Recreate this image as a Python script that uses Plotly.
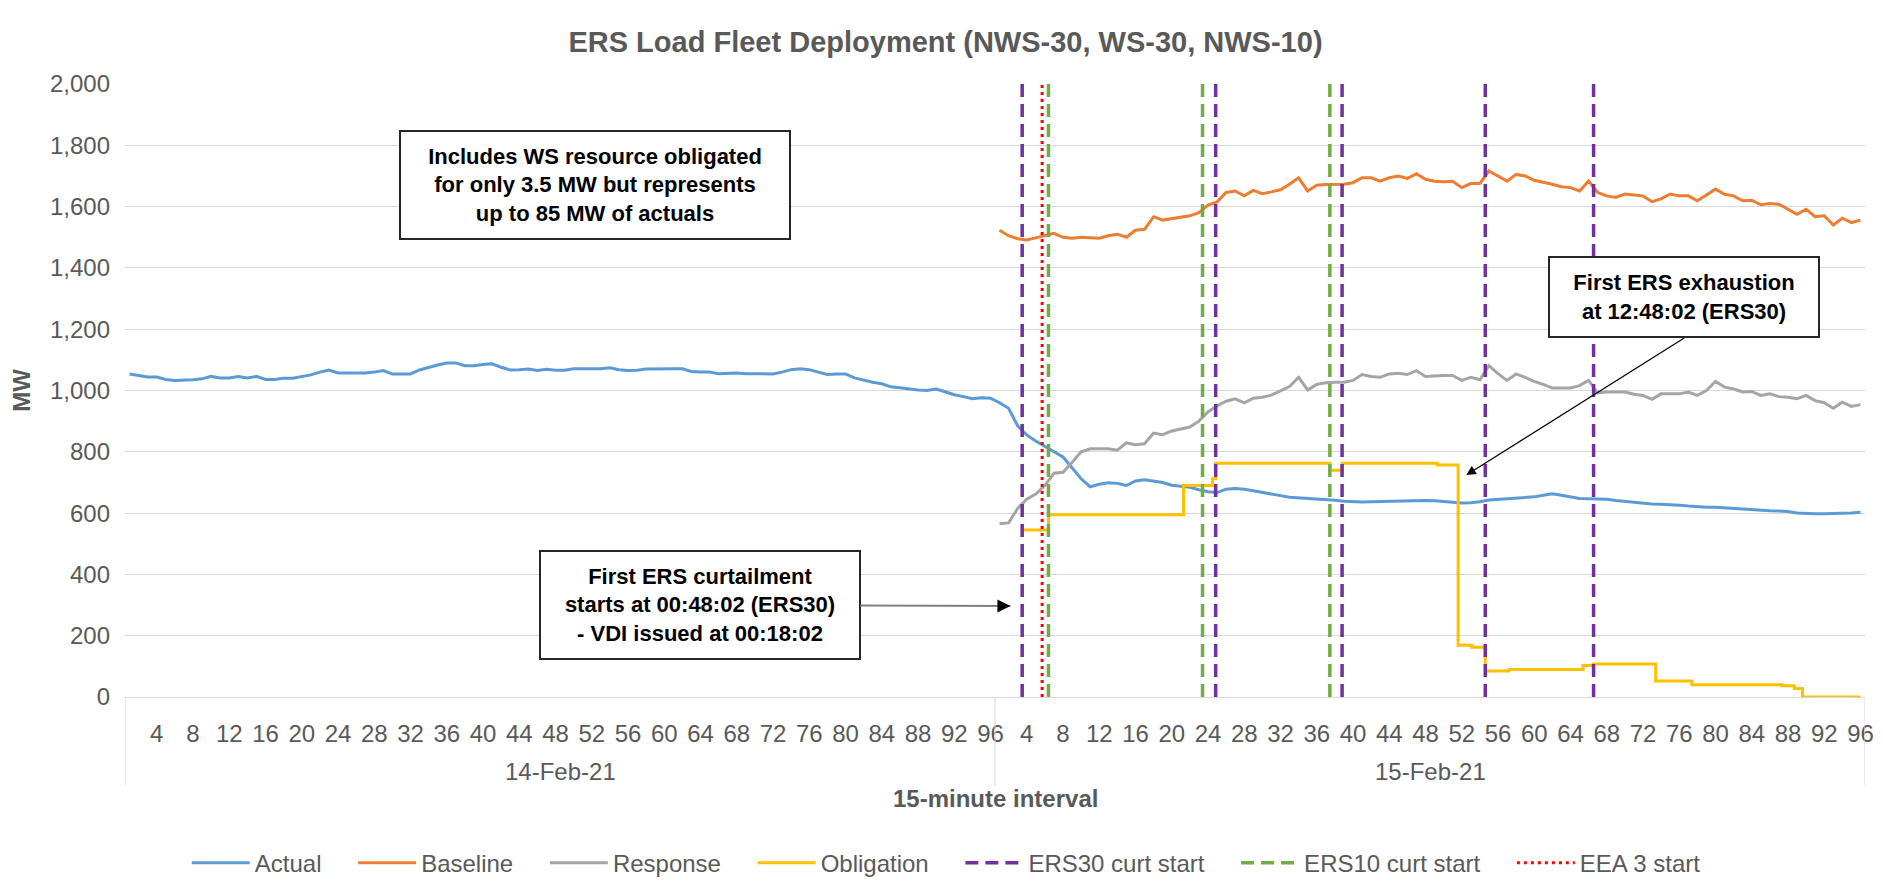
import plotly.graph_objects as go

# ---- data ----
days = ['14-Feb-21', '15-Feb-21']
intervals = list(range(1, 97))

actual_day1 = [1054, 1050, 1044, 1044, 1036, 1033, 1033, 1035, 1038, 1046,
               1041, 1041, 1046, 1041, 1046, 1036, 1036, 1040, 1040, 1046,
               1051, 1060, 1067, 1057, 1057, 1057, 1057, 1060, 1065, 1054,
               1054, 1054, 1067, 1076, 1083, 1090, 1090, 1081, 1081, 1085,
               1087, 1076, 1067, 1068, 1070, 1065, 1069, 1066, 1066, 1071,
               1071, 1071, 1071, 1074, 1068, 1065, 1066, 1070, 1071, 1071,
               1071, 1071, 1062, 1060, 1060, 1055, 1057, 1057, 1055, 1054,
               1054, 1054, 1060, 1068, 1071, 1068, 1060, 1052, 1054, 1054,
               1041, 1033, 1027, 1022, 1012, 1009, 1005, 1002, 1000, 1005,
               996, 986, 980, 973, 976, 975]
actual_day2 = [960, 942, 885, 855, 835, 818, 800, 783, 748, 712,
               686, 694, 699, 697, 690, 705, 709, 705, 700, 691,
               687, 684, 676, 670, 667, 678, 680, 678, 673, 667,
               662, 657, 652, 650, 649, 648, 646, 642, 639, 637,
               636, 637, 638, 638, 639, 640, 640, 641, 640, 638,
               636, 633, 634, 637, 643, 645, 646, 647, 650, 653,
               658, 663, 658, 654, 648, 647, 647, 645, 641, 638,
               636, 633, 630, 629, 628, 626, 623, 620, 619, 619,
               617, 614, 612, 611, 609, 608, 607, 605, 600, 598,
               598, 598, 598, 599, 600, 603]
baseline_day2 = [1523, 1505, 1495, 1491, 1498, 1505, 1513, 1500, 1497, 1500,
                 1498, 1497, 1505, 1510, 1500, 1523, 1526, 1567, 1556, 1560,
                 1564, 1570, 1580, 1605, 1615, 1646, 1651, 1635, 1653, 1642,
                 1648, 1655, 1673, 1694, 1651, 1670, 1672, 1673, 1673, 1678,
                 1694, 1694, 1683, 1694, 1700, 1692, 1707, 1689, 1683, 1681,
                 1683, 1662, 1675, 1675, 1716, 1700, 1683, 1705, 1700, 1686,
                 1680, 1673, 1665, 1662, 1651, 1683, 1646, 1635, 1630, 1641,
                 1638, 1635, 1616, 1625, 1641, 1635, 1635, 1619, 1638, 1657,
                 1640, 1635, 1619, 1621, 1606, 1610, 1608, 1591, 1575, 1591,
                 1567, 1570, 1540, 1562, 1548, 1556]
response_day2 = [565, 568, 615, 645, 662, 690, 730, 733, 765, 800,
                 810, 810, 810, 805, 829, 823, 826, 861, 856, 868,
                 874, 881, 900, 930, 950, 965, 973, 960, 975, 978,
                 985, 1000, 1013, 1043, 1002, 1020, 1025, 1027, 1027, 1033,
                 1052, 1046, 1043, 1054, 1056, 1052, 1065, 1046, 1048, 1049,
                 1049, 1033, 1043, 1035, 1081, 1055, 1033, 1054, 1043, 1030,
                 1020, 1008, 1008, 1008, 1016, 1033, 992, 995, 995, 995,
                 988, 984, 971, 989, 989, 989, 995, 984, 1000, 1030,
                 1011, 1005, 995, 997, 984, 989, 980, 978, 973, 984,
                 967, 960, 942, 962, 948, 954]

# obligation is a step series; positions are on the two-day interval axis
obligation_x = [99.5, 102.4, 117.3, 120.5, 120.85, 133.45, 134.8, 145.3, 147.6, 149.1,
                150.6, 153.2, 161.4, 162.5, 169.4, 173.4, 183.3, 184.7, 185.6, 192]
obligation_y = [545, 595, 690, 712, 763, 740, 763, 757, 169, 162,
                85, 90, 103, 108, 52, 40, 37, 28, 0, 0]

ers30_starts = [99.5, 120.85, 134.8, 150.6, 162.55]
ers10_starts = [102.4, 119.4, 133.45]
eea3_starts = [101.7]

y_range = [0, 2000]

# ---- build ----
n = len(intervals)
x = list(range(1, 2 * n + 1))
actual = actual_day1 + actual_day2
baseline = [None] * n + baseline_day2
response = [None] * n + response_day2

tick_pos = [d * n + i for d in range(len(days)) for i in intervals if i % 4 == 0]
tick_txt = [str(i) for d in range(len(days)) for i in intervals if i % 4 == 0]


def vlines(xs):
    vx, vy = [], []
    for v in xs:
        vx += [v, v, None]
        vy += [y_range[0], y_range[1], None]
    return vx, vy


FONT = 'Liberation Sans, Arial, sans-serif'
GRAY = '#595959'
PAD = '\u00a0' * 4   # extra spacing between legend entries

fig = go.Figure()

fig.add_trace(go.Scatter(x=x, y=actual, name='Actual' + PAD, mode='lines',
                         line=dict(color='#5B9BD5', width=3)))
fig.add_trace(go.Scatter(x=x, y=baseline, name='Baseline' + PAD, mode='lines',
                         line=dict(color='#ED7D31', width=3)))
fig.add_trace(go.Scatter(x=x, y=response, name='Response' + PAD, mode='lines',
                         line=dict(color='#A5A5A5', width=3)))
fig.add_trace(go.Scatter(x=obligation_x, y=obligation_y, name='Obligation' + PAD, mode='lines',
                         line=dict(color='#FFC000', width=3, shape='hv')))

vx, vy = vlines(ers30_starts)
fig.add_trace(go.Scatter(x=vx, y=vy, name='ERS30 curt start' + PAD, mode='lines',
                         line=dict(color='#7030A0', width=3.5, dash='13px,7px')))
vx, vy = vlines(ers10_starts)
fig.add_trace(go.Scatter(x=vx, y=vy, name='ERS10 curt start' + PAD, mode='lines',
                         line=dict(color='#70AD47', width=3.5, dash='13px,7px')))
vx, vy = vlines(eea3_starts)
fig.add_trace(go.Scatter(x=vx, y=vy, name='EEA 3 start', mode='lines',
                         line=dict(color='#FF0000', width=3, dash='3px,4px')))

# category dividers below the axis
shapes = []
for b in [0.5, n + 0.5, 2 * n + 0.5]:
    shapes.append(dict(type='line', xref='x', yref='paper', x0=b, x1=b, y0=0, y1=-0.144,
                       line=dict(color='#D9D9D9', width=1)))

annotations = []
for d, day in enumerate(days):
    annotations.append(dict(x=d * n + (n + 1) / 2, y=-0.122, xref='x', yref='paper',
                            text=day, showarrow=False, yanchor='middle',
                            font=dict(size=24, color=GRAY)))
annotations.append(dict(x=0.5, y=-0.166, xref='paper', yref='paper',
                        text='<b>15-minute interval</b>', showarrow=False, yanchor='middle',
                        font=dict(size=24, color=GRAY)))

box = dict(bgcolor='white', bordercolor='#262626', borderwidth=2, borderpad=0,
           font=dict(size=22, color='black', family=FONT))
annotations.append(dict(x=52.4, y=1670, xref='x', yref='y', showarrow=False,
                        text='<b>Includes WS resource obligated<br>for only 3.5 MW but represents<br>up to 85 MW of actuals</b>',
                        width=388, height=106, **box))
annotations.append(dict(x=98.2, y=297, xref='x', yref='y', ax=-310, ay=-1,
                        text='<b>First ERS curtailment<br>starts at 00:48:02 (ERS30)<br>- VDI issued at 00:18:02</b>',
                        width=318, height=106, showarrow=True, arrowhead=0,
                        arrowcolor='#808080', arrowwidth=2, **box))
annotations.append(dict(x=98.2, y=297, xref='x', yref='y', ax=-14, ay=0, text='',
                        showarrow=True, arrowhead=2, arrowsize=1.3, arrowwidth=2,
                        arrowcolor='black'))
annotations.append(dict(x=148.5, y=724, xref='x', yref='y', ax=218, ay=-137,
                        xanchor='center', yanchor='bottom',
                        text='<b>First ERS exhaustion<br>at 12:48:02 (ERS30)</b>',
                        width=268, height=78, showarrow=True, arrowhead=2, arrowsize=1.6,
                        arrowwidth=1.2, arrowcolor='black', **box))

fig.update_xaxes(range=[0.5, 2 * n + 0.5], tickvals=tick_pos, ticktext=tick_txt,
                 showgrid=False, zeroline=False, showline=True, linecolor='#D9D9D9',
                 ticks='', ticklabelstandoff=15, tickfont=dict(size=24, color=GRAY))
fig.update_yaxes(range=y_range, dtick=200, tickformat=',', showgrid=True,
                 gridcolor='#D9D9D9', gridwidth=1, zeroline=False, showline=False,
                 ticks='', ticklabelstandoff=14, tickfont=dict(size=24, color=GRAY),
                 title=dict(text='<b>MW</b>', font=dict(size=24, color=GRAY), standoff=14))

# the page body adds an 8px offset, so the figure is 8px smaller than the window
fig.update_layout(
    width=1875, height=878,
    title=dict(text='ERS Load Fleet Deployment (NWS-30, WS-30, NWS-10)', x=0.5, xref='container',
               xanchor='center', y=1 - 34 / 878, yref='container', yanchor='middle',
               font=dict(size=29, color=GRAY, weight='bold')),
    font=dict(family=FONT, color=GRAY),
    plot_bgcolor='white', paper_bgcolor='white',
    margin=dict(l=117, r=18, t=76, b=189, autoexpand=False),
    showlegend=True,
    legend=dict(orientation='h', x=0.472, xanchor='center', y=-0.271, yanchor='middle',
                font=dict(size=24, color=GRAY), itemwidth=58, bgcolor='rgba(0,0,0,0)'),
    shapes=shapes,
    annotations=annotations,
)

fig.write_html('out.html')
